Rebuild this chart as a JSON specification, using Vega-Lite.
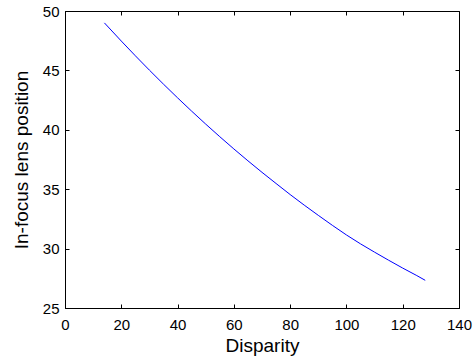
{
  "$schema": "https://vega.github.io/schema/vega-lite/v6.json",
  "width": 394,
  "height": 297,
  "autosize": {"type": "none"},
  "padding": {"left": 65, "top": 11, "right": 17, "bottom": 54},
  "background": "white",
  "config": {
    "view": {"stroke": "black", "strokeWidth": 1},
    "axis": {
      "grid": false,
      "domainColor": "black",
      "domainWidth": 1,
      "tickColor": "black",
      "tickWidth": 1,
      "tickSize": 4,
      "labelColor": "black",
      "labelFont": "Liberation Sans",
      "labelFontSize": 15,
      "labelFlush": false,
      "labelOverlap": false,
      "titleFont": "Liberation Sans",
      "titleFontSize": 19,
      "titleFontWeight": "normal",
      "titleColor": "black"
    }
  },
  "data": {
    "values": [
      {"disparity": 14, "lens": 49.0},
      {"disparity": 20, "lens": 47.47},
      {"disparity": 25, "lens": 46.23},
      {"disparity": 30, "lens": 45.02},
      {"disparity": 35, "lens": 43.84},
      {"disparity": 40, "lens": 42.69},
      {"disparity": 45, "lens": 41.57},
      {"disparity": 50, "lens": 40.48},
      {"disparity": 55, "lens": 39.42},
      {"disparity": 60, "lens": 38.39},
      {"disparity": 65, "lens": 37.39},
      {"disparity": 70, "lens": 36.42},
      {"disparity": 75, "lens": 35.48},
      {"disparity": 80, "lens": 34.55},
      {"disparity": 85, "lens": 33.66},
      {"disparity": 90, "lens": 32.8},
      {"disparity": 95, "lens": 31.96},
      {"disparity": 100, "lens": 31.15},
      {"disparity": 105, "lens": 30.4},
      {"disparity": 110, "lens": 29.7},
      {"disparity": 115, "lens": 29.02},
      {"disparity": 120, "lens": 28.36},
      {"disparity": 125, "lens": 27.73},
      {"disparity": 128, "lens": 27.33}
    ]
  },
  "layer": [
    {
      "mark": {"type": "line", "color": "#0000ff", "strokeWidth": 1},
      "encoding": {
        "x": {
          "field": "disparity", "type": "quantitative",
          "scale": {"domain": [0, 140], "nice": false},
          "axis": {"title": "Disparity", "values": [0, 20, 40, 60, 80, 100, 120, 140], "ticks": false, "labelPadding": 9, "titlePadding": 4}
        },
        "y": {
          "field": "lens", "type": "quantitative",
          "scale": {"domain": [25, 50], "nice": false, "zero": false},
          "axis": {"title": "In-focus lens position", "values": [25, 30, 35, 40, 45, 50], "ticks": false, "labelPadding": 6, "titlePadding": 11}
        }
      }
    },
    {
      "mark": {"type": "line", "opacity": 0},
      "encoding": {
        "x": {
          "field": "disparity", "type": "quantitative",
          "scale": {"domain": [0, 140], "nice": false},
          "axis": {"orient": "top", "offset": -297, "title": null, "labels": false, "domain": false, "values": [0, 20, 40, 60, 80, 100, 120, 140]}
        },
        "y": {
          "field": "lens", "type": "quantitative",
          "scale": {"domain": [25, 50], "nice": false, "zero": false},
          "axis": {"orient": "right", "offset": -394, "title": null, "labels": false, "domain": false, "values": [25, 30, 35, 40, 45, 50]}
        }
      }
    },
    {
      "mark": {"type": "line", "opacity": 0},
      "encoding": {
        "x": {
          "field": "disparity", "type": "quantitative",
          "scale": {"domain": [0, 140], "nice": false},
          "axis": {"orient": "bottom", "offset": -297, "title": null, "labels": false, "domain": false, "values": [0, 20, 40, 60, 80, 100, 120, 140]}
        },
        "y": {
          "field": "lens", "type": "quantitative",
          "scale": {"domain": [25, 50], "nice": false, "zero": false},
          "axis": {"orient": "left", "offset": -394, "title": null, "labels": false, "domain": false, "values": [25, 30, 35, 40, 45, 50]}
        }
      }
    }
  ],
  "resolve": {"scale": {"x": "independent", "y": "independent"}, "axis": {"x": "independent", "y": "independent"}}
}
